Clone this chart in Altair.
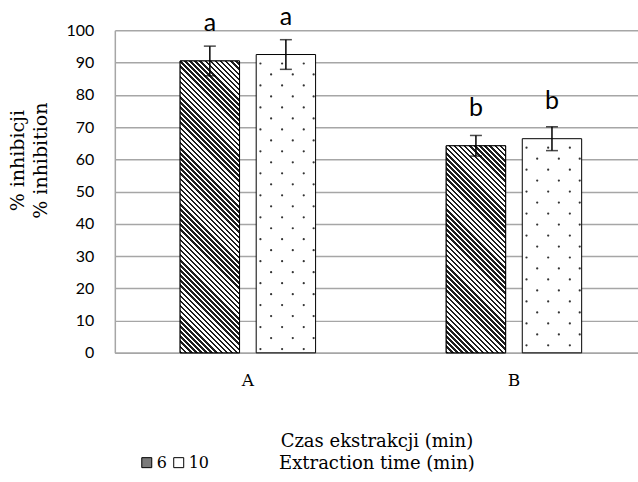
import altair as alt
import pandas as pd

# ---- data ----
categories = ["A", "B"]
series = ["6", "10"]
means_6 = [90.5, 64.2]
means_10 = [92.5, 66.4]
err_6 = [4.6, 3.2]
err_10 = [4.6, 3.7]
letters_6 = ["a", "b"]
letters_10 = ["a", "b"]

rows = []
for i, c in enumerate(categories):
    rows.append(dict(cat=c, series="6", mean=means_6[i], err=err_6[i], letter=letters_6[i]))
    rows.append(dict(cat=c, series="10", mean=means_10[i], err=err_10[i], letter=letters_10[i]))
df = pd.DataFrame(rows)

# ---- layout ----
PLOT_W = 524
PLOT_H = 323
X_RANGE = 533
P_IN = 0.491
P_IN_OFF = 0.219
GRID = "#a6a6a6"

step = X_RANGE / 2.0
band_w = step * (1 - P_IN)
sub_step = band_w / (2 - P_IN_OFF)
bar_px_w = sub_step * (1 - P_IN_OFF)
bar10_center = sub_step + bar_px_w / 2.0


def hatch(w, h, period=5.1, ink="#1e1e1e"):
    """diagonal '\\' stripes as a linear gradient in bbox units"""
    k = (w + h) / (w * w + h * h)
    total = w + h
    stops = []
    pos = 0.0
    while pos < total:
        a = pos / total
        b = min((pos + period * 0.5) / total, 1.0)
        c = min((pos + period) / total, 1.0)
        stops += [
            alt.GradientStop(color=ink, offset=a),
            alt.GradientStop(color=ink, offset=b),
            alt.GradientStop(color="#ffffff", offset=b),
            alt.GradientStop(color="#ffffff", offset=c),
        ]
        pos += period
    return alt.LinearGradient(gradient="linear", stops=stops,
                              x1=0, y1=1, x2=k * w, y2=1 - k * h)


# dotted fill texture of the 10-min bars (pattern offsets in pixels within the group)
ROW_PX = 11.0
DOT_COLS = {0: [-25.5, -3.8, 17.9], 1: [-14.8, 6.9, 27.8]}
tex = []
for i, c in enumerate(categories):
    h_px = means_10[i] * PLOT_H / 100.0
    r = 0
    while 9 + r * ROW_PX < h_px - 3:
        for off in DOT_COLS[r % 2]:
            tex.append(dict(cat=c, px=bar10_center + off,
                            ypos=means_10[i] - (9 + r * ROW_PX) * 100.0 / PLOT_H))
        r += 1
tex_df = pd.DataFrame(tex)

x_enc = alt.X(
    "cat:N", sort=categories,
    scale=alt.Scale(range=[0, X_RANGE], paddingInner=P_IN, paddingOuter=P_IN / 2),
    axis=alt.Axis(
        title=["Czas ekstrakcji (min)", "Extraction time (min)"],
        titleFont="DejaVu Serif", titleFontSize=18, titleFontWeight="normal",
        titleColor="black", titleLineHeight=22, titleBaseline="middle",
        titleX=262, titleY=89,
        labelFont="DejaVu Serif", labelFontSize=17, labelColor="black",
        labelAngle=0, labelPadding=20, ticks=False,
        domainColor=GRID, domainWidth=1.5,
    ),
)
xo_enc = alt.XOffset("series:N", sort=series,
                     scale=alt.Scale(type="band", domain=series,
                                     paddingInner=P_IN_OFF, paddingOuter=0))

y_axis = alt.Axis(
    values=list(range(0, 101, 10)),
    title=["% inhibicji", "% inhibition"],
    titleFont="DejaVu Serif", titleFontSize=19, titleFontWeight="normal",
    titleColor="black", titleLineHeight=23, titleBaseline="middle",
    titleAngle=-90, titleX=-97, titleY=130,
    labelFont="Lato", labelFontSize=16, labelColor="black", labelPadding=21,
    ticks=False, grid=True, gridColor=GRID, gridWidth=1.5,
    domainColor=GRID, domainWidth=1.5,
)
y_scale = alt.Scale(domain=[0, 100], nice=False)

base = alt.Chart(df)

bars = base.mark_bar(stroke="black", strokeWidth=1).encode(
    x=x_enc, xOffset=xo_enc,
    y=alt.Y("mean:Q", scale=y_scale, axis=y_axis),
    fill=alt.Fill(
        "series:N", sort=series,
        scale=alt.Scale(domain=series, range=["#7a7a7a", "#ffffff"]),
        legend=alt.Legend(
            orient="none", legendX=24, legendY=425, direction="horizontal",
            title=None, symbolType="square", symbolSize=100,
            symbolStrokeColor="black", symbolStrokeWidth=1,
            labelFont="DejaVu Serif", labelFontSize=16, labelColor="black",
            labelOffset=2, columnPadding=3,
        ),
    ),
)

hatch_layers = []
for i, c in enumerate(categories):
    h_px = means_6[i] * PLOT_H / 100.0
    hatch_layers.append(
        base.mark_bar(fill=hatch(bar_px_w, h_px), stroke="black", strokeWidth=1)
        .encode(x=x_enc, xOffset=xo_enc, y=alt.Y("mean:Q", scale=y_scale, axis=y_axis))
        .transform_filter((alt.datum.cat == c) & (alt.datum.series == "6"))
    )

dots = alt.Chart(tex_df).mark_circle(size=5, color="#333333", opacity=1).encode(
    x=x_enc,
    xOffset=alt.XOffset("px:Q", scale=alt.Scale(domain=[0, band_w], range=[0, band_w],
                                                  nice=False, zero=False)),
    y=alt.Y("ypos:Q", scale=y_scale, axis=y_axis),
)

err_base = base.transform_calculate(
    lo="datum.mean - datum.err", hi="datum.mean + datum.err"
)
err_rule = err_base.mark_rule(color="black", strokeWidth=1.5).encode(
    x=x_enc, xOffset=xo_enc,
    y=alt.Y("lo:Q", scale=y_scale, axis=y_axis), y2="hi:Q",
)
cap_lo = err_base.mark_tick(color="black", thickness=1.5, size=12).encode(
    x=x_enc, xOffset=xo_enc, y=alt.Y("lo:Q", scale=y_scale, axis=y_axis)
)
cap_hi = err_base.mark_tick(color="black", thickness=1.5, size=12).encode(
    x=x_enc, xOffset=xo_enc, y=alt.Y("hi:Q", scale=y_scale, axis=y_axis)
)

letters = base.mark_text(font="Lato", fontSize=25, baseline="alphabetic",
                         dy=-30, color="black").encode(
    x=x_enc, xOffset=xo_enc,
    y=alt.Y("mean:Q", scale=y_scale, axis=y_axis),
    text="letter:N",
)

chart = alt.layer(bars, *hatch_layers, dots, err_rule, cap_lo, cap_hi,
                  letters).resolve_scale(xOffset="independent").properties(
    width=PLOT_W, height=PLOT_H,
    padding={"left": 115, "top": 30, "right": 0, "bottom": 482 - 30 - PLOT_H},
    autosize=alt.AutoSizeParams(type="none"),
    background="white",
).configure_view(stroke=None)

chart.save("out.html", embed_options={"renderer": "svg", "actions": False})
